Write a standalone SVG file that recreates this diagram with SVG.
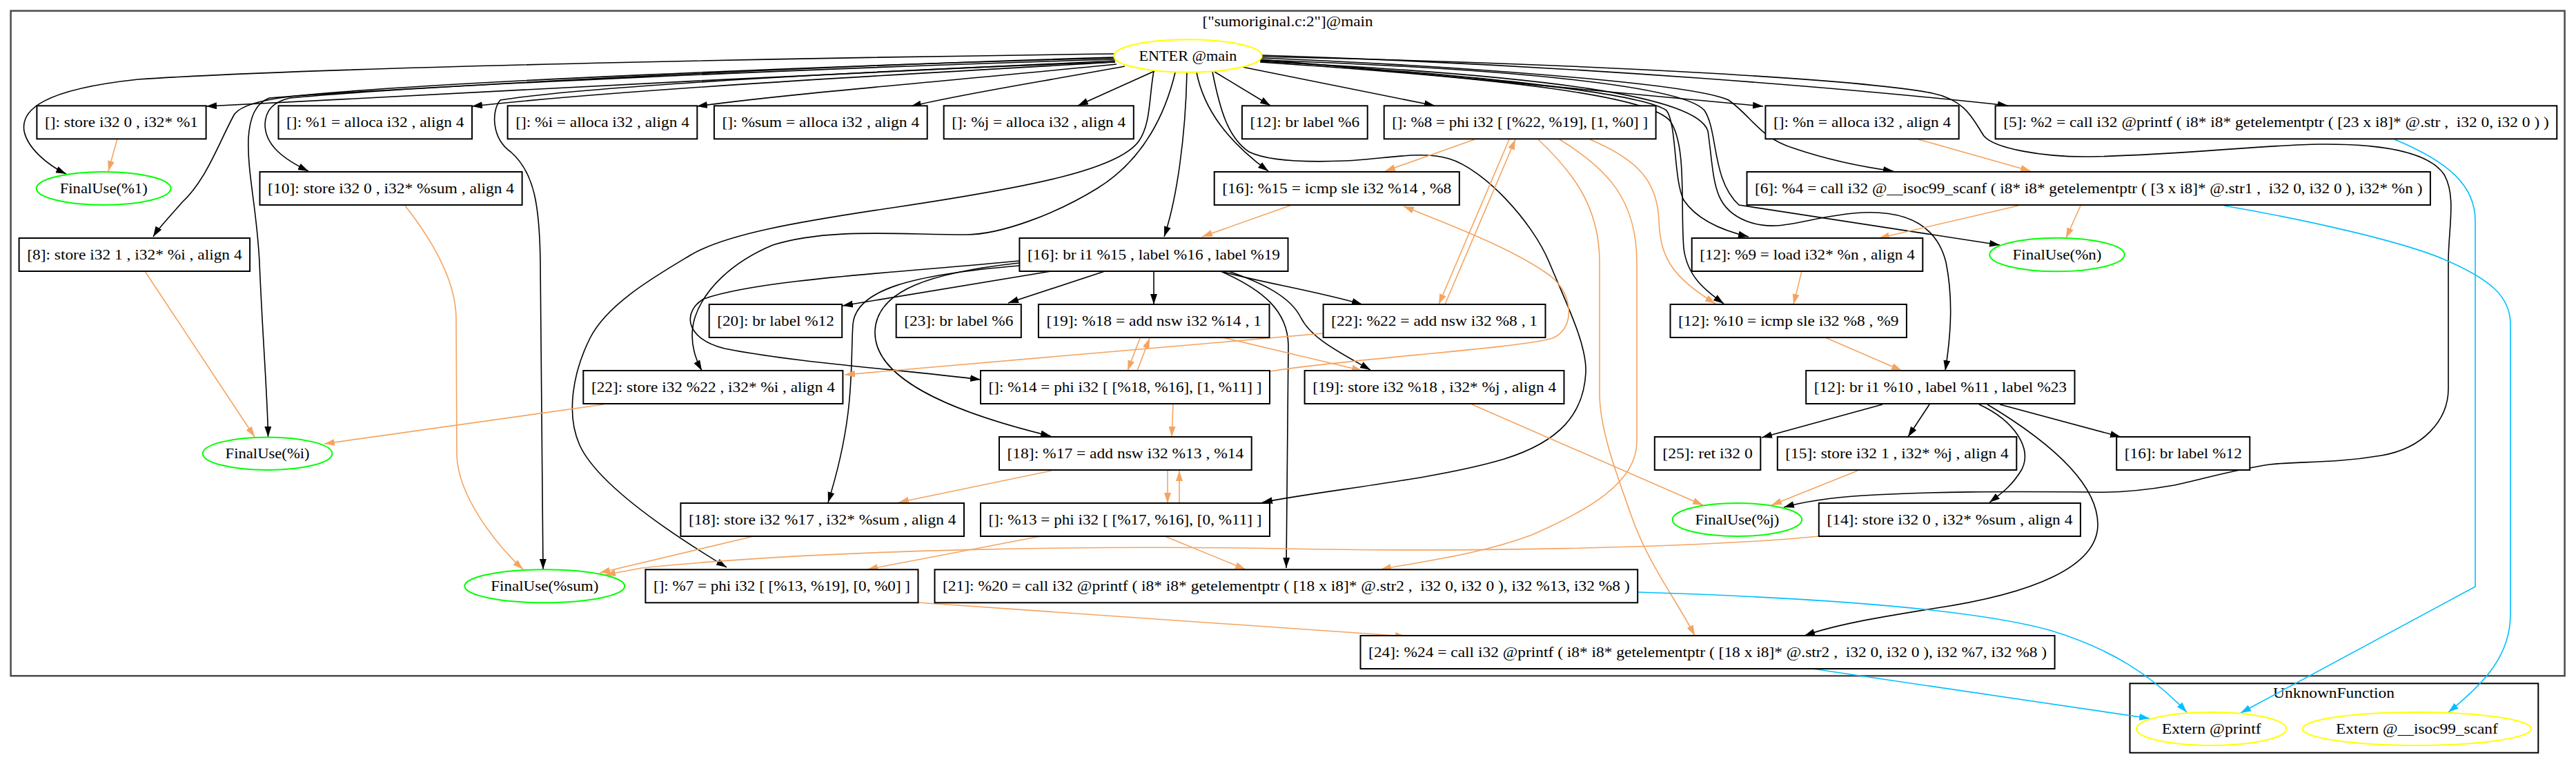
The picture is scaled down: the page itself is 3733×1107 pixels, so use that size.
<svg xmlns="http://www.w3.org/2000/svg" width="3733" height="1107" viewBox="0 0 3733 1107">
<style>
text{font-family:"Liberation Serif","Times New Roman",serif;font-size:22px;fill:#000;text-anchor:middle;white-space:pre}
.box{fill:#fff;stroke:#000;stroke-width:2}
.fu{fill:none;stroke:#00ff00;stroke-width:2}
.ye{fill:none;stroke:#ffff00;stroke-width:2}
.cl{fill:none;stroke:#4a4a4a;stroke-width:2.5}
.cl2{fill:none;stroke:#000;stroke-width:2}
.k{fill:none;stroke:#000;stroke-width:1.6;marker-end:url(#ak)}
.o{fill:none;stroke:#f4a460;stroke-width:1.6;marker-end:url(#ao)}
.b{fill:none;stroke:#00bfff;stroke-width:1.6;marker-end:url(#ab)}
</style>
<defs>
<marker id="ak" markerUnits="userSpaceOnUse" markerWidth="16" markerHeight="12" refX="15" refY="5" orient="auto"><path d="M0,0 L15,5 L0,10 z" fill="#000"/></marker>
<marker id="ao" markerUnits="userSpaceOnUse" markerWidth="16" markerHeight="12" refX="15" refY="5" orient="auto"><path d="M0,0 L15,5 L0,10 z" fill="#f4a460"/></marker>
<marker id="ab" markerUnits="userSpaceOnUse" markerWidth="16" markerHeight="12" refX="15" refY="5" orient="auto"><path d="M0,0 L15,5 L0,10 z" fill="#00bfff"/></marker>
</defs>
<rect width="3733" height="1107" fill="#fff"/>
<g id="cluster_main">
<rect class="cl" x="15.6" y="15.7" width="3701" height="963.6"/>
<text x="1866" y="38" textLength="247" lengthAdjust="spacingAndGlyphs">["sumoriginal.c:2"]@main</text>
</g>
<g id="cluster_unknown">
<rect class="cl2" x="3086.5" y="990.3" width="591.8" height="100.4"/>
<text x="3382" y="1011" textLength="176" lengthAdjust="spacingAndGlyphs">UnknownFunction</text>
</g>

<g id="connectors">
<!-- black from ENTER -->
<path class="k" d="M1616,88 C1200,105 700,135 299,154"/>
<path class="k" d="M1615,78 C1300,82 500,95 200,115 C60,130 30,160 35,190 C40,215 70,240 96,252"/>
<path class="k" d="M1616,90 C1300,108 900,130 684,154"/>
<path class="k" d="M1618,93 C1400,115 1150,135 1010,154"/>
<path class="k" d="M1630,96 C1500,120 1400,135 1320,154"/>
<path class="k" d="M1673,103 L1562,153"/>
<path class="k" d="M1760,104 L1841,153"/>
<path class="k" d="M1800,97 L2079,153"/>
<path class="k" d="M1826,86 C2100,110 2400,140 2555,154"/>
<path class="k" d="M1828,80 C2300,95 2700,130 2910,153"/>
<path class="k" d="M1827,84 C2100,95 2450,120 2505,145 C2540,170 2550,200 2600,215 C2650,232 2700,242 2744,248"/>
<path class="k" d="M1826,88 C2150,110 2380,135 2415,160 C2430,180 2425,260 2440,290 C2460,320 2500,335 2534,343"/>
<path class="k" d="M1826,90 C2200,115 2390,140 2420,175 C2445,210 2435,300 2440,360 C2445,400 2470,420 2498,440"/>
<path class="k" d="M1827,87 C2200,100 2440,125 2470,160 C2490,190 2480,260 2520,297 L2898,355"/>
<path class="k" d="M1827,89 C2250,110 2460,140 2475,190 C2485,260 2480,300 2530,320 C2580,340 2620,312 2700,308 C2780,305 2810,340 2820,380 C2830,430 2828,480 2819,537"/>
<path class="k" d="M1734,105 C1745,160 1780,205 1838,248"/>
<path class="k" d="M1720,105 C1718,200 1705,290 1687,343"/>
<path class="k" d="M1757,104 C1768,160 1780,200 1810,220 C1840,235 1900,235 1950,233 C2010,230 2060,218 2100,230 C2150,245 2220,320 2245,380 C2270,440 2300,500 2298,540 C2295,600 2260,640 2180,665 C2080,695 1920,710 1829,728"/>
<path class="k" d="M1672,103 C1665,140 1668,180 1650,205 C1620,245 1500,270 1300,300 C1150,322 1050,340 1000,370 C950,400 880,440 855,490 C830,540 820,600 840,645 C870,710 1000,790 1053,822"/>
<path class="k" d="M1703,105 C1690,160 1660,230 1590,273 C1530,310 1450,340 1400,340 C1300,340 1200,330 1120,355 C1060,380 1020,420 1007,460 C998,490 1005,515 1017,537"/>
<path class="k" d="M1828,82 C2300,92 2700,115 2800,135 C2850,145 2860,175 2875,197 C2890,215 2960,228 3030,227 C3150,225 3280,210 3361,209 C3450,208 3520,220 3542,253 C3560,285 3548,330 3548,380 L3548,563 C3548,610 3510,650 3451,660 C3380,672 3330,668 3289,673 C3230,682 3190,695 3151,703 C3100,712 3060,714 3030,713 C2900,712 2800,712 2700,718 C2640,722 2610,728 2585,735"/>
<path class="k" d="M1615,84 C1200,95 600,120 420,140 C370,146 348,155 340,165 C320,200 300,260 264,293 C245,315 230,330 222,343"/>
<path class="k" d="M1615,83 C1200,95 600,125 420,142 C395,148 385,160 384,180 C384,210 410,230 447,248"/>
<path class="k" d="M1615,86 C1200,98 600,125 390,142 C370,150 362,170 360,200 C358,250 372,300 376,380 C380,480 388,580 388.5,633"/>
<path class="k" d="M1616,90 C1300,100 850,125 725,145 C712,160 712,200 740,220 C775,250 782,300 783,380 L787,825"/>
<!-- black from [16] br i1 %15 -->
<path class="k" d="M1477,378 C1300,395 1100,405 1020,433 C990,450 990,490 1050,505 C1150,525 1300,535 1421,550"/>
<path class="k" d="M1477,381 C1350,395 1270,420 1268,480 C1266,540 1350,590 1523,632"/>
<path class="k" d="M1477,385 C1320,398 1240,420 1236,470 C1232,530 1240,600 1200,728"/>
<path class="k" d="M1523,393 L1221,443"/>
<path class="k" d="M1601,393 L1461,439"/>
<path class="k" d="M1672,393 L1672,441"/>
<path class="k" d="M1769,393 C1830,410 1900,420 1974,441"/>
<path class="k" d="M1780,393 C1830,410 1870,430 1885,460 C1900,490 1940,510 1986,536"/>
<path class="k" d="M1769,393 C1830,420 1866,450 1867,500 L1864,823"/>
<!-- black from [12] br i1 %10 -->
<path class="k" d="M2728,586 L2553,634"/>
<path class="k" d="M2796,586 L2765,633"/>
<path class="k" d="M2898,586 L3073,633"/>
<path class="k" d="M2868,586 C2920,610 2945,650 2930,680 C2915,705 2900,715 2883,728"/>
<path class="k" d="M2880,586 C2970,640 3040,700 3040,760 C3040,820 2950,860 2800,882 C2720,895 2660,905 2615,921"/>
<!-- orange -->
<path class="o" d="M170,201 L157,248"/>
<path class="o" d="M587,298 C620,340 660,400 661,460 L662,660 C664,720 720,790 758,825"/>
<path class="o" d="M210,393 L369,633"/>
<path class="o" d="M875,586 L470,643"/>
<path class="o" d="M2780,202 L2943,248"/>
<path class="o" d="M3015,298 L2994,345"/>
<path class="o" d="M2925,298 L2723,345"/>
<path class="o" d="M2611,393 L2599,441"/>
<path class="o" d="M2645,489 L2756,537"/>
<path class="o" d="M2692,682 L2567,732"/>
<path class="o" d="M2133,586 L2468,732"/>
<path class="o" d="M2137,202 L2007,248"/>
<path class="o" d="M1872,297 L1742,343"/>
<path class="o" d="M2187,202 L2085,441"/>
<path class="o" d="M2094,441 L2196,202"/>
<path class="o" d="M2304,202 C2370,230 2402,260 2404,320 C2406,370 2420,400 2486,440"/>
<path class="o" d="M2260,202 C2330,245 2372,290 2372,380 L2372,640 C2372,700 2300,740 2220,775 C2140,805 2050,815 2001,825"/>
<path class="o" d="M2229,202 C2280,250 2318,300 2318,380 L2318,570 C2318,620 2340,680 2365,750 C2390,820 2430,870 2456,921"/>
<path class="o" d="M1918,483 L1224,543"/>
<path class="o" d="M1841,538 C1950,520 2200,505 2250,490 C2285,475 2280,420 2240,395 C2190,360 2100,325 2034,299"/>
<path class="o" d="M1652,490 L1634,537"/>
<path class="o" d="M1648,537 L1666,490"/>
<path class="o" d="M1700,585 L1698,633"/>
<path class="o" d="M1692,682 L1692,729"/>
<path class="o" d="M1709,729 L1709,682"/>
<path class="o" d="M1524,682 L1302,728"/>
<path class="o" d="M1772,489 L1974,537"/>
<path class="o" d="M1092,777 L869,830"/>
<path class="o" d="M2636,777 C2450,795 2100,800 1860,795 C1600,790 1200,795 930,823 L877,833"/>
<path class="o" d="M1508,777 L1257,825"/>
<path class="o" d="M1688,777 L1805,825"/>
<path class="o" d="M1330,873 L2037,922"/>
<!-- blue -->
<path class="b" d="M3470,202 C3550,235 3587,270 3587,320 L3587,850 L3247,1033"/>
<path class="b" d="M3223,298 C3350,320 3480,350 3540,375 C3610,405 3638,430 3638,470 L3638,890 C3638,950 3600,990 3548,1032"/>
<path class="b" d="M2373,858 C2600,865 2850,880 2970,913 C3060,940 3120,980 3169,1032"/>
<path class="b" d="M2627,969 L3115,1041"/>
</g>

<g id="n_enter"><ellipse class="ye" cx="1721.4" cy="81" rx="107.3" ry="23.7"/><text x="1721.4" y="88" textLength="142" lengthAdjust="spacingAndGlyphs">ENTER @main</text></g>
<g id="n_store1"><rect class="box" x="53.4" y="153.3" width="245.2" height="48"/><text x="176" y="184" textLength="222" lengthAdjust="spacingAndGlyphs">[]: store i32 0 , i32* %1</text></g>
<g id="n_alloca1"><rect class="box" x="403.5" y="153.3" width="280.5" height="48"/><text x="543.8" y="184" textLength="257.5" lengthAdjust="spacingAndGlyphs">[]: %1 = alloca i32 , align 4</text></g>
<g id="n_allocai"><rect class="box" x="735.6" y="153.3" width="274.7" height="48"/><text x="873" y="184" textLength="251.7" lengthAdjust="spacingAndGlyphs">[]: %i = alloca i32 , align 4</text></g>
<g id="n_allocasum"><rect class="box" x="1034.9" y="153.3" width="308.8" height="48"/><text x="1189.3" y="184" textLength="285.8" lengthAdjust="spacingAndGlyphs">[]: %sum = alloca i32 , align 4</text></g>
<g id="n_allocaj"><rect class="box" x="1367.7" y="153.3" width="275.1" height="48"/><text x="1505.3" y="184" textLength="252" lengthAdjust="spacingAndGlyphs">[]: %j = alloca i32 , align 4</text></g>
<g id="n_br6"><rect class="box" x="1799.9" y="153.3" width="181.8" height="48"/><text x="1890.8" y="184" textLength="158.8" lengthAdjust="spacingAndGlyphs">[12]: br label %6</text></g>
<g id="n_phi8"><rect class="box" x="2005.7" y="153.3" width="393.9" height="48"/><text x="2202.7" y="184" textLength="371" lengthAdjust="spacingAndGlyphs">[]: %8 = phi i32 [ [%22, %19], [1, %0] ]</text></g>
<g id="n_allocan"><rect class="box" x="2558.4" y="153.3" width="280.3" height="48"/><text x="2698.6" y="184" textLength="257.3" lengthAdjust="spacingAndGlyphs">[]: %n = alloca i32 , align 4</text></g>
<g id="n_printf5"><rect class="box" x="2891.6" y="153.3" width="813.7" height="48"/><text x="3298.5" y="184" textLength="790.7" lengthAdjust="spacingAndGlyphs">[5]: %2 = call i32 @printf ( i8* i8* getelementptr ( [23 x i8]* @.str ,  i32 0, i32 0 ) )</text></g>

<g id="n_final1"><ellipse class="fu" cx="150.2" cy="273" rx="97.4" ry="24"/><text x="150.2" y="280" textLength="127" lengthAdjust="spacingAndGlyphs">FinalUse(%1)</text></g>
<g id="n_store10"><rect class="box" x="376.5" y="249" width="380.1" height="48"/><text x="566.6" y="280" textLength="357" lengthAdjust="spacingAndGlyphs">[10]: store i32 0 , i32* %sum , align 4</text></g>
<g id="n_icmp15"><rect class="box" x="1759.7" y="249" width="355.1" height="48"/><text x="1937.3" y="280" textLength="332" lengthAdjust="spacingAndGlyphs">[16]: %15 = icmp sle i32 %14 , %8</text></g>
<g id="n_scanf6"><rect class="box" x="2531.5" y="249" width="990.4" height="48"/><text x="3026.7" y="280" textLength="967.4" lengthAdjust="spacingAndGlyphs">[6]: %4 = call i32 @__isoc99_scanf ( i8* i8* getelementptr ( [3 x i8]* @.str1 ,  i32 0, i32 0 ), i32* %n )</text></g>

<g id="n_store8"><rect class="box" x="27.6" y="345" width="334.5" height="48"/><text x="194.9" y="376" textLength="311.5" lengthAdjust="spacingAndGlyphs">[8]: store i32 1 , i32* %i , align 4</text></g>
<g id="n_br15"><rect class="box" x="1477.4" y="345" width="389.1" height="48"/><text x="1672" y="376" textLength="366" lengthAdjust="spacingAndGlyphs">[16]: br i1 %15 , label %16 , label %19</text></g>
<g id="n_load9"><rect class="box" x="2451.7" y="345" width="334.6" height="48"/><text x="2619" y="376" textLength="311.6" lengthAdjust="spacingAndGlyphs">[12]: %9 = load i32* %n , align 4</text></g>
<g id="n_finaln"><ellipse class="fu" cx="2981" cy="369" rx="97.7" ry="24.3"/><text x="2981" y="376" textLength="129" lengthAdjust="spacingAndGlyphs">FinalUse(%n)</text></g>

<g id="n_br20"><rect class="box" x="1027.7" y="441" width="192.5" height="48"/><text x="1124" y="472" textLength="169.5" lengthAdjust="spacingAndGlyphs">[20]: br label %12</text></g>
<g id="n_br23"><rect class="box" x="1298.7" y="441" width="181.1" height="48"/><text x="1389.3" y="472" textLength="158" lengthAdjust="spacingAndGlyphs">[23]: br label %6</text></g>
<g id="n_add18"><rect class="box" x="1504.9" y="441" width="334.6" height="48"/><text x="1672.2" y="472" textLength="311.6" lengthAdjust="spacingAndGlyphs">[19]: %18 = add nsw i32 %14 , 1</text></g>
<g id="n_add22"><rect class="box" x="1917.6" y="441" width="321.9" height="48"/><text x="2078.6" y="472" textLength="299" lengthAdjust="spacingAndGlyphs">[22]: %22 = add nsw i32 %8 , 1</text></g>
<g id="n_icmp10"><rect class="box" x="2420.5" y="441" width="342.4" height="48"/><text x="2591.7" y="472" textLength="319.4" lengthAdjust="spacingAndGlyphs">[12]: %10 = icmp sle i32 %8 , %9</text></g>

<g id="n_store22"><rect class="box" x="845.3" y="537" width="376.1" height="48"/><text x="1033.4" y="568" textLength="353" lengthAdjust="spacingAndGlyphs">[22]: store i32 %22 , i32* %i , align 4</text></g>
<g id="n_phi14"><rect class="box" x="1421" y="537" width="419" height="48"/><text x="1630.5" y="568" textLength="396" lengthAdjust="spacingAndGlyphs">[]: %14 = phi i32 [ [%18, %16], [1, %11] ]</text></g>
<g id="n_store19"><rect class="box" x="1890.6" y="537" width="375.9" height="48"/><text x="2078.6" y="568" textLength="352.9" lengthAdjust="spacingAndGlyphs">[19]: store i32 %18 , i32* %j , align 4</text></g>
<g id="n_br10"><rect class="box" x="2617.2" y="537" width="389.3" height="48"/><text x="2811.9" y="568" textLength="366.3" lengthAdjust="spacingAndGlyphs">[12]: br i1 %10 , label %11 , label %23</text></g>

<g id="n_finali"><ellipse class="fu" cx="387.6" cy="657.2" rx="93.8" ry="23.8"/><text x="387.6" y="664" textLength="122" lengthAdjust="spacingAndGlyphs">FinalUse(%i)</text></g>
<g id="n_add17"><rect class="box" x="1448" y="633" width="365.7" height="48"/><text x="1630.9" y="664" textLength="342.7" lengthAdjust="spacingAndGlyphs">[18]: %17 = add nsw i32 %13 , %14</text></g>
<g id="n_ret"><rect class="box" x="2397.8" y="633" width="153.5" height="48"/><text x="2474.6" y="664" textLength="130.5" lengthAdjust="spacingAndGlyphs">[25]: ret i32 0</text></g>
<g id="n_store15"><rect class="box" x="2575.8" y="633" width="346.5" height="48"/><text x="2749" y="664" textLength="323.5" lengthAdjust="spacingAndGlyphs">[15]: store i32 1 , i32* %j , align 4</text></g>
<g id="n_br16"><rect class="box" x="3067.2" y="633" width="193.1" height="48"/><text x="3163.8" y="664" textLength="170" lengthAdjust="spacingAndGlyphs">[16]: br label %12</text></g>

<g id="n_store18"><rect class="box" x="986.4" y="729" width="410.6" height="48"/><text x="1191.7" y="760" textLength="387.6" lengthAdjust="spacingAndGlyphs">[18]: store i32 %17 , i32* %sum , align 4</text></g>
<g id="n_phi13"><rect class="box" x="1421" y="729" width="419" height="48"/><text x="1630.5" y="760" textLength="396" lengthAdjust="spacingAndGlyphs">[]: %13 = phi i32 [ [%17, %16], [0, %11] ]</text></g>
<g id="n_finalj"><ellipse class="fu" cx="2517.4" cy="753" rx="93.8" ry="24"/><text x="2517.4" y="760" textLength="122" lengthAdjust="spacingAndGlyphs">FinalUse(%j)</text></g>
<g id="n_store14"><rect class="box" x="2635.8" y="729" width="379.1" height="48"/><text x="2825.4" y="760" textLength="356" lengthAdjust="spacingAndGlyphs">[14]: store i32 0 , i32* %sum , align 4</text></g>

<g id="n_finalsum"><ellipse class="fu" cx="789.3" cy="849.3" rx="116" ry="24"/><text x="789.3" y="856" textLength="156" lengthAdjust="spacingAndGlyphs">FinalUse(%sum)</text></g>
<g id="n_phi7"><rect class="box" x="935.4" y="825.3" width="395.1" height="48"/><text x="1133" y="856" textLength="372" lengthAdjust="spacingAndGlyphs">[]: %7 = phi i32 [ [%13, %19], [0, %0] ]</text></g>
<g id="n_printf21"><rect class="box" x="1354.5" y="825.3" width="1018.7" height="48"/><text x="1863.9" y="856" textLength="995.7" lengthAdjust="spacingAndGlyphs">[21]: %20 = call i32 @printf ( i8* i8* getelementptr ( [18 x i8]* @.str2 ,  i32 0, i32 0 ), i32 %13, i32 %8 )</text></g>

<g id="n_printf24"><rect class="box" x="1971.5" y="921" width="1006.1" height="48"/><text x="2474.6" y="952" textLength="983" lengthAdjust="spacingAndGlyphs">[24]: %24 = call i32 @printf ( i8* i8* getelementptr ( [18 x i8]* @.str2 ,  i32 0, i32 0 ), i32 %7, i32 %8 )</text></g>

<g id="n_extprintf"><ellipse class="ye" cx="3204.7" cy="1056" rx="108.6" ry="24"/><text x="3204.7" y="1063" textLength="144" lengthAdjust="spacingAndGlyphs">Extern @printf</text></g>
<g id="n_extscanf"><ellipse class="ye" cx="3502.4" cy="1056" rx="165.7" ry="24"/><text x="3502.4" y="1063" textLength="234.6" lengthAdjust="spacingAndGlyphs">Extern @__isoc99_scanf</text></g>
</svg>
